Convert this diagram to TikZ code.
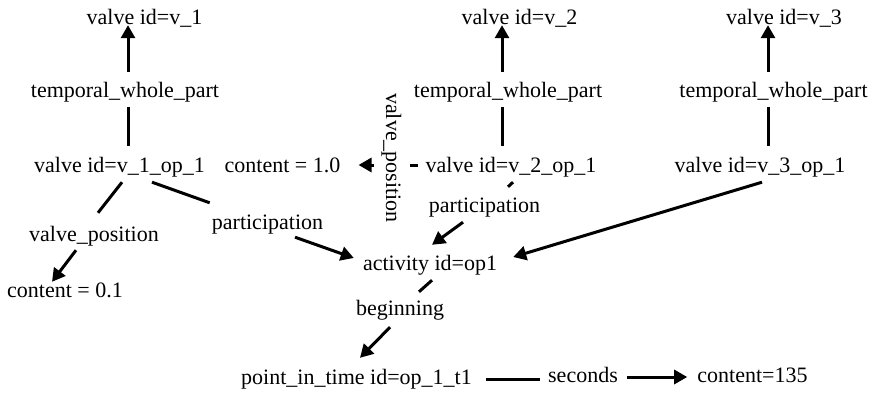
\documentclass[tikz,border=0pt]{standalone}
\usepackage{fontspec}
\setmainfont{Liberation Serif}
\usetikzlibrary{arrows.meta}

\tikzset{
  lbl/.style={inner sep=0pt, text height=15pt, text depth=5pt, anchor=base,
              font=\fontsize{22}{26}\selectfont},
  wire/.style={line width=3pt},
  arrowed/.style={wire, -{Triangle[length=13pt,width=14pt]}}
}

\begin{document}
\begin{tikzpicture}[x=1pt,y=-1pt]
\useasboundingbox[fill=white] (0,0) rectangle (874,393);

% valve individuals
\node[lbl] (v1) at (144.5,24.5) {valve id=v\_1};
\node[lbl] (v2) at (519.5,24.5) {valve id=v\_2};
\node[lbl] (v3) at (784,24.5)   {valve id=v\_3};

% temporal parts
\node[lbl] (t1) at (125,98)   {temporal\_whole\_part};
\node[lbl] (t2) at (508,98)   {temporal\_whole\_part};
\node[lbl] (t3) at (773.5,98) {temporal\_whole\_part};

\node[lbl] (o1) at (119.5,172) {valve id=v\_1\_op\_1};
\node[lbl] (o2) at (511,172)   {valve id=v\_2\_op\_1};
\node[lbl] (o3) at (760,172)   {valve id=v\_3\_op\_1};
\node[lbl] (c10) at (282.5,172) {content = 1.0};

% relation labels
\node[lbl, anchor=center, rotate=-90] (vp2) at (391,158) {valve\_position};
\node[lbl] (p1)  at (267.5,229) {participation};
\node[lbl] (vp1) at (94,241)    {valve\_position};
\node[lbl] (c01) at (65,297)    {content = 0.1};
\node[lbl] (p2)  at (484.5,212) {participation};

% activity and its start
\node[lbl] (act)  at (430,270)   {activity id=op1};
\node[lbl] (beg)  at (400,315)   {beginning};
\node[lbl] (pit)  at (356.5,384) {point\_in\_time id=op\_1\_t1};
\node[lbl] (sec)  at (583,382)   {seconds};
\node[lbl] (c135) at (752.5,382) {content=135};

% whole/part chains
\draw[wire]    ([xshift=8.5pt,yshift=11pt]o1.north) -- ([xshift=3pt,yshift=-4pt]t1.south);
\draw[arrowed] ([xshift=3pt,yshift=11pt]t1.north) -- ([xshift=-16.5pt,yshift=4.5pt]v1.south);
\draw[wire]    ([xshift=-9pt,yshift=11pt]o2.north) -- ([xshift=-6pt,yshift=-4pt]t2.south);
\draw[arrowed] ([xshift=-6pt,yshift=11pt]t2.north) -- ([xshift=-17.5pt,yshift=4.5pt]v2.south);
\draw[wire]    ([xshift=8pt,yshift=11pt]o3.north) -- ([xshift=-5.5pt,yshift=-4pt]t3.south);
\draw[arrowed] ([xshift=-5.5pt,yshift=11pt]t3.north) -- ([xshift=-16pt,yshift=4.5pt]v3.south);

% valve positions
\draw[wire]    ([xshift=2.5pt,yshift=-5pt]o1.south) -- ([xshift=4pt,yshift=13pt]vp1.north);
\draw[arrowed] ([xshift=-18pt,yshift=-4pt]vp1.south) -- ([xshift=-13pt]c01.north);
\draw[wire]    ([xshift=-7pt,yshift=2pt]o2.west) -- ([xshift=19pt,yshift=-7pt]vp2.center);
\draw[arrowed] ([xshift=-17pt,yshift=-7pt]vp2.center) -- ([xshift=18pt,yshift=2pt]c10.east);

% participation
\draw[wire]    ([xshift=32.5pt,yshift=-5pt]o1.south) -- ([xshift=-2pt,yshift=11pt]p1.north west);
\draw[arrowed] ([xshift=27.5pt,yshift=-3pt]p1.south) -- ([xshift=-9pt,yshift=7pt]act.west);
\draw[wire]    ([xshift=2pt,yshift=-5pt]o2.south) -- ([xshift=23.5pt,yshift=10pt]p2.north);
\draw[arrowed] ([xshift=-21.5pt,yshift=-5pt]p2.south) -- ([xshift=2pt,yshift=10pt]act.north);
\draw[arrowed] ([xshift=2pt,yshift=-5pt]o3.south) -- ([xshift=16pt,yshift=8pt]act.east);

% beginning and duration
\draw[wire]    ([xshift=2pt,yshift=-5pt]act.south) -- ([xshift=19pt,yshift=8pt]beg.north);
\draw[arrowed] ([xshift=-10pt,yshift=-7pt]beg.south) -- ([xshift=3.5pt,yshift=11pt]pit.north);
\draw[wire]    ([xshift=14pt]pit.east) -- ([xshift=-8pt,yshift=-2pt]sec.west);
\draw[arrowed] ([xshift=9pt]sec.east) -- ([xshift=-10pt]c135.west);
\end{tikzpicture}
\end{document}
